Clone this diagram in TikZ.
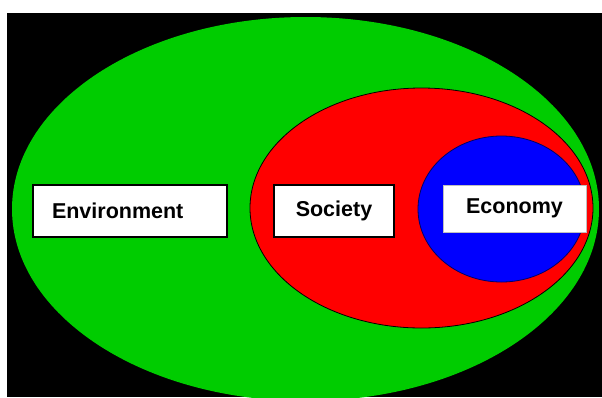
\documentclass[tikz,border=0pt]{standalone}
\usepackage{fontspec}
\setmainfont{Liberation Sans}
\definecolor{envgreen}{RGB}{0,204,0}
\definecolor{socred}{RGB}{255,0,0}
\definecolor{ecoblue}{RGB}{0,0,255}

\begin{document}
\begin{tikzpicture}[x=1pt, y=-1pt,
    every node/.style={rectangle, fill=white, draw=black, line width=1.2pt, inner sep=0pt,
        font=\fontsize{21.5}{26}\selectfont\bfseries}]
            \useasboundingbox (0,0) rectangle (602,397);
            \fill[black] (7,13) rectangle (602,397);

            % the three nested ellipses
            \fill[envgreen] (305.5,209) ellipse [x radius=293.5, y radius=192];
            \filldraw[fill=socred, draw=black, line width=0.8pt] (421.5,208) ellipse [x radius=171.5, y radius=120];
            \filldraw[fill=ecoblue, draw=black!60!ecoblue, line width=0.8pt] (501.5,209) ellipse [x radius=83.5, y radius=73];

            % labels
            \node[text width=156pt, align=left, inner xsep=19pt, minimum height=52pt] (env) at (130,211) {Environment};
            \node[minimum width=120pt, minimum height=52pt] (soc) at (334,211) {Society};
            \node[minimum width=143pt, minimum height=47pt, draw=black!25, line width=0.6pt] (eco) at (514.5,208.5) {Economy};
        \end{tikzpicture}
\end{document}
